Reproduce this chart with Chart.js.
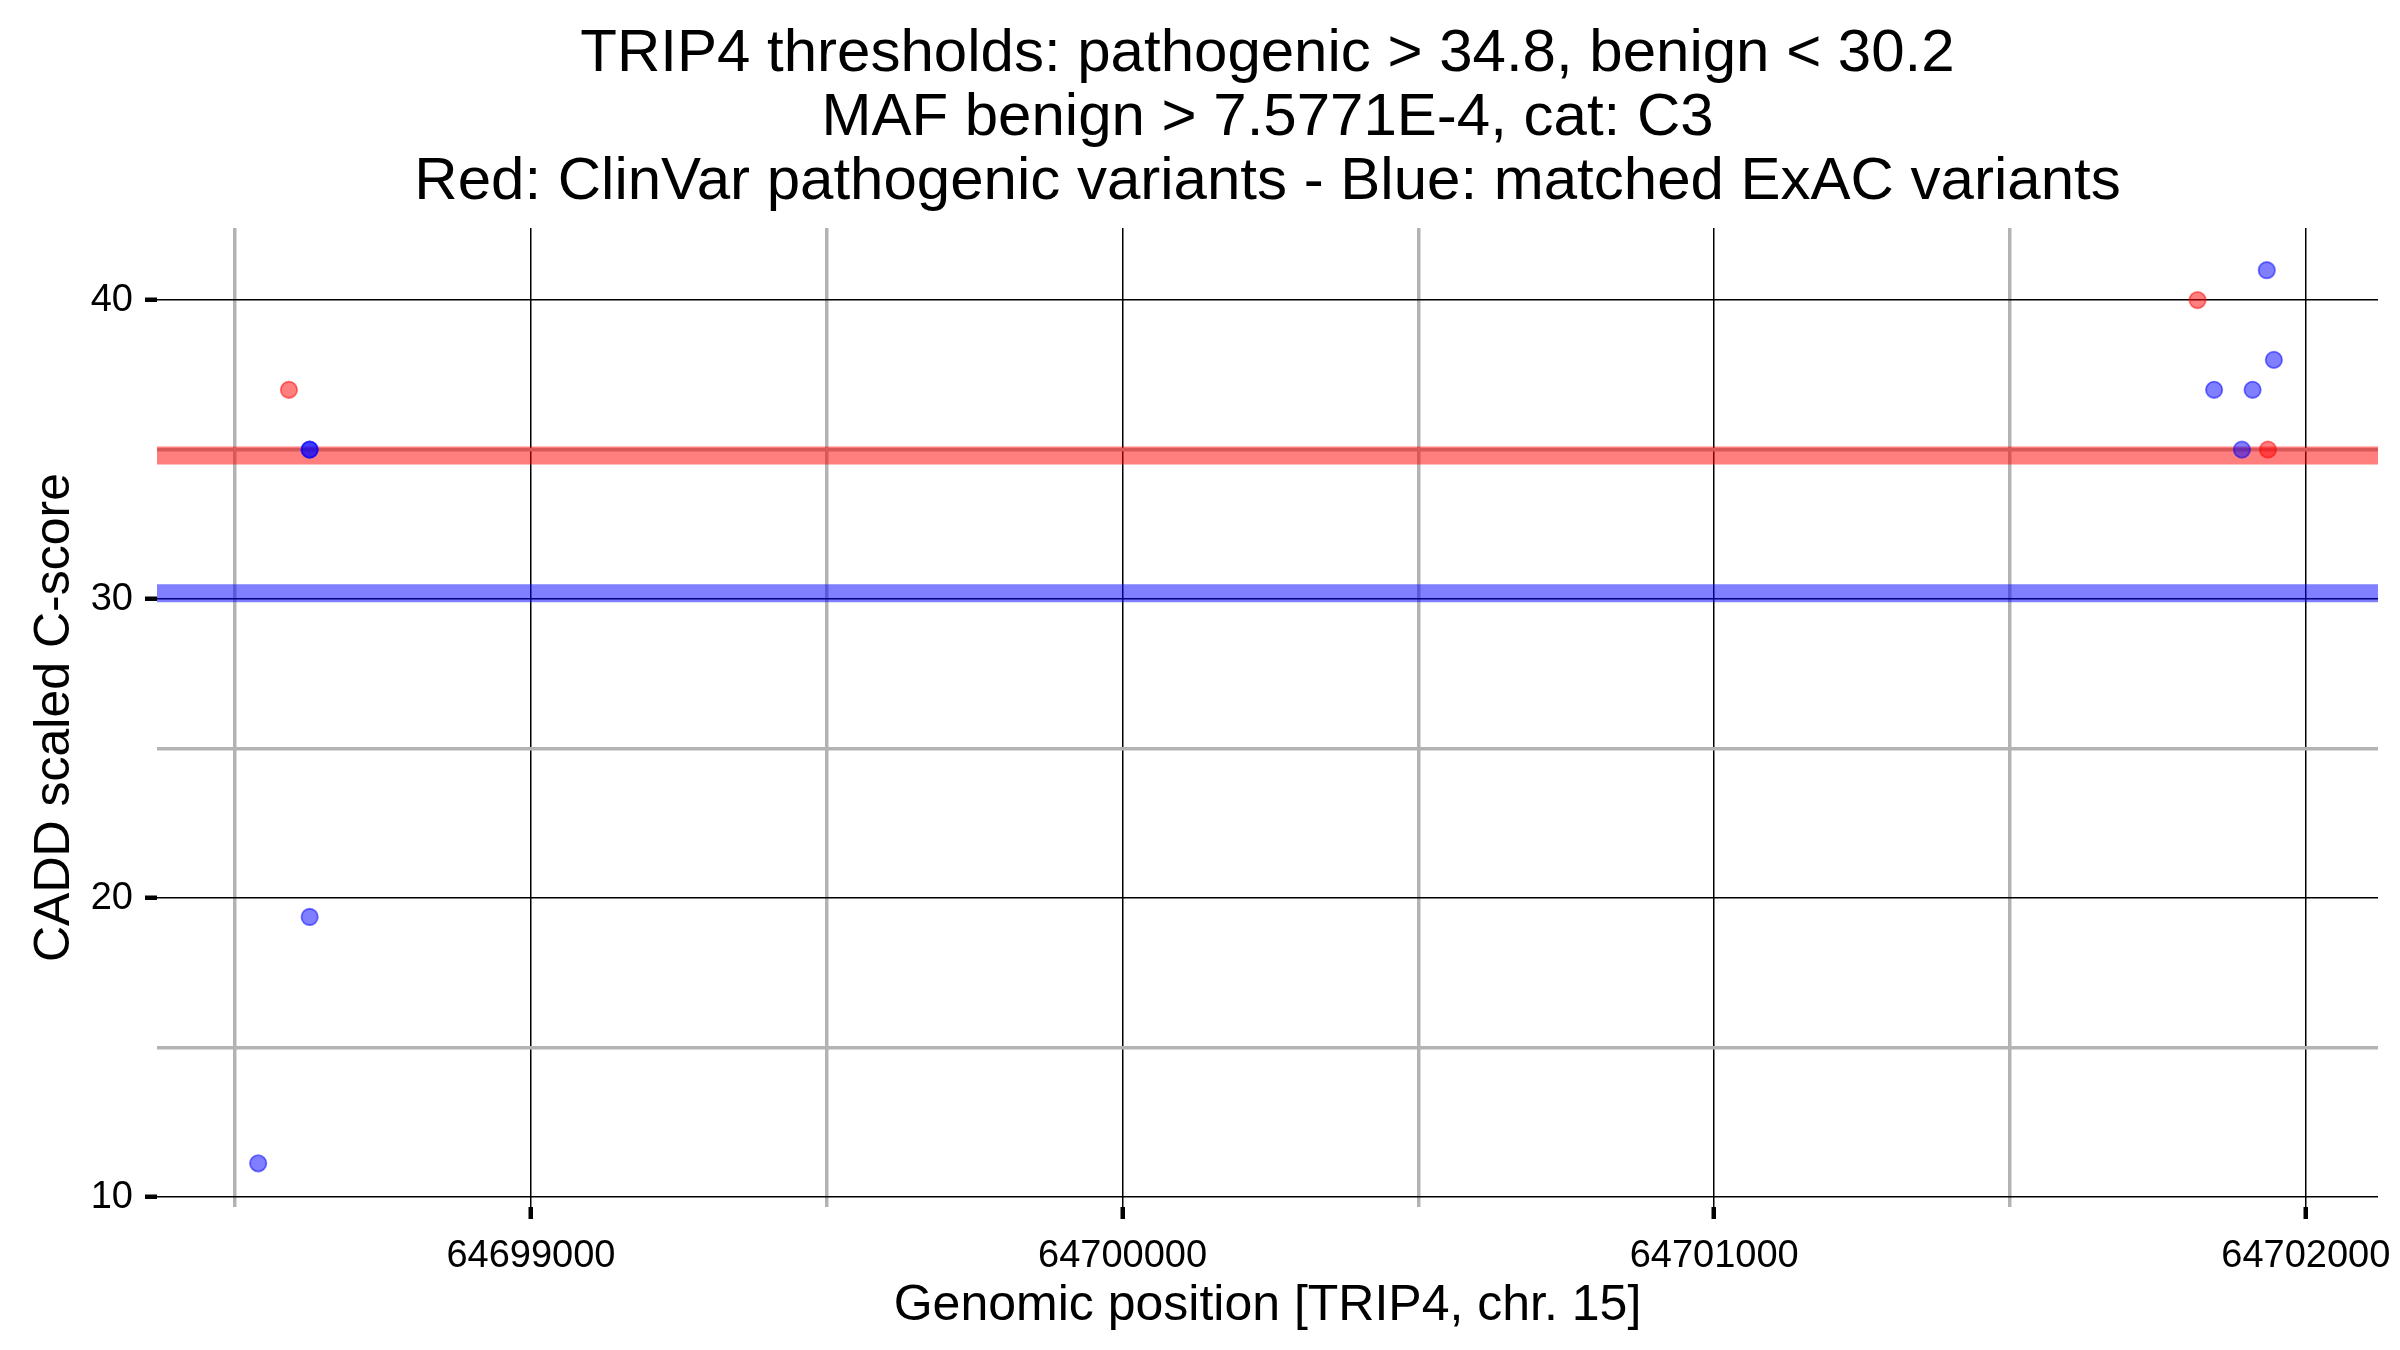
<!DOCTYPE html>
<html>
<head>
<meta charset="utf-8">
<title>TRIP4 CADD scores</title>
<script src="https://cdn.jsdelivr.net/npm/chart.js@4.4.1/dist/chart.umd.min.js"></script>
<style>
  html, body { margin: 0; padding: 0; background: #fff; }
  canvas { display: block; }
</style>
</head>
<body>
<canvas id="caddChart" width="2400" height="1350"></canvas>
<script>
// ClinVar pathogenic variants (red)
const clinvarPos = [64698591, 64701817, 64701936];
const clinvarScore = [37, 40, 35];

// matched ExAC variants (blue)
const exacPos = [64698539, 64698626, 64698626, 64698626, 64701845, 64701892, 64701910, 64701934, 64701946];
const exacScore = [11.13, 19.37, 35, 35, 37, 35, 37, 41, 38];

// CADD thresholds
const pathogenicThreshold = 34.8;
const benignThreshold = 30.2;

// Axis ranges and ticks
const xRange = [64698368, 64702122];
const yRange = [9.67, 42.41];
const xMajorTicks = [64699000, 64700000, 64701000, 64702000];
const xMinorTicks = [64698500, 64699500, 64700500, 64701500];
const yMajorTicks = [10, 20, 30, 40];
const yMinorTicks = [15, 25, 35];

const titleLines = [
    'TRIP4 thresholds: pathogenic > 34.8, benign < 30.2',
    'MAF benign > 7.5771E-4, cat: C3',
    'Red: ClinVar pathogenic variants - Blue: matched ExAC variants'
];

const FONT = "'Liberation Sans', Arial, Helvetica, sans-serif";

// Build point lists from the arrays
const toPoints = (xs, ys) => xs.map((x, i) => ({ x: x, y: ys[i] }));
const hline = (y) => [{ x: xRange[0], y: y }, { x: xRange[1], y: y }];

// Major grid lines are thin black, minor ones thick grey
const gridColor = (majors) => (ctx) => majors.includes(ctx.tick.value) ? '#000000' : '#b3b3b3';
const gridWidth = (majors) => (ctx) => majors.includes(ctx.tick.value) ? 1.5 : 3.5;
const tickColor = (majors) => (ctx) => majors.includes(ctx.tick.value) ? '#000000' : 'rgba(0,0,0,0)';

const pointStyle = (rgba) => ({
    backgroundColor: rgba,
    borderColor: rgba,
    pointRadius: 8.2,
    borderWidth: 1.8,
    order: 1
});

new Chart(document.getElementById('caddChart'), {
    type: 'scatter',
    data: {
        datasets: [
            Object.assign({ label: 'ClinVar pathogenic', data: toPoints(clinvarPos, clinvarScore) }, pointStyle('rgba(255,0,0,0.5)')),
            Object.assign({ label: 'matched ExAC', data: toPoints(exacPos, exacScore) }, pointStyle('rgba(0,0,255,0.5)')),
            {
                label: 'pathogenic threshold',
                data: hline(pathogenicThreshold),
                showLine: true,
                borderColor: 'rgba(255,0,0,0.5)',
                borderWidth: 18,
                pointRadius: 0,
                order: 2
            },
            {
                label: 'benign threshold',
                data: hline(benignThreshold),
                showLine: true,
                borderColor: 'rgba(0,0,255,0.5)',
                borderWidth: 18,
                pointRadius: 0,
                order: 2
            }
        ]
    },
    options: {
        responsive: false,
        devicePixelRatio: 1,
        animation: false,
        events: [],
        layout: { padding: { top: 0, right: 22, bottom: 0, left: 0 } },
        plugins: {
            legend: { display: false },
            tooltip: { enabled: false },
            title: {
                display: true,
                fullSize: false,   // centre over the plot panel, like ggplot
                text: titleLines,
                color: '#000000',
                font: { family: FONT, size: 60, weight: 'normal', lineHeight: 1.067 },
                padding: { top: 22, bottom: 14 }
            }
        },
        scales: {
            x: {
                type: 'linear',
                min: xRange[0],
                max: xRange[1],
                afterBuildTicks: (axis) => {
                    axis.ticks = xMinorTicks.concat(xMajorTicks).sort((a, b) => a - b).map(v => ({ value: v }));
                },
                afterFit: (axis) => {
                    axis.height = 143;
                    axis.paddingLeft = 0;
                    axis.paddingRight = 0;
                },
                border: { display: false },
                grid: {
                    color: gridColor(xMajorTicks),
                    lineWidth: gridWidth(xMajorTicks),
                    tickColor: tickColor(xMajorTicks),
                    tickWidth: 4.5,
                    tickLength: 12
                },
                ticks: {
                    autoSkip: false,
                    maxRotation: 0,
                    padding: 15,
                    color: '#000000',
                    font: { family: FONT, size: 38 },
                    callback: (value) => xMajorTicks.includes(value) ? String(value) : ''
                },
                title: {
                    display: true,
                    text: 'Genomic position [TRIP4, chr. 15]',
                    color: '#000000',
                    font: { family: FONT, size: 50 },
                    padding: { top: 0, bottom: 14 }
                }
            },
            y: {
                type: 'linear',
                min: yRange[0],
                max: yRange[1],
                afterBuildTicks: (axis) => {
                    axis.ticks = yMinorTicks.concat(yMajorTicks).sort((a, b) => a - b).map(v => ({ value: v }));
                },
                afterFit: (axis) => {
                    axis.width = 157;
                    axis.paddingTop = 0;
                    axis.paddingBottom = 0;
                },
                border: { display: false },
                grid: {
                    color: gridColor(yMajorTicks),
                    lineWidth: gridWidth(yMajorTicks),
                    tickColor: tickColor(yMajorTicks),
                    tickWidth: 4.5,
                    tickLength: 12
                },
                ticks: {
                    autoSkip: false,
                    padding: 12,
                    color: '#000000',
                    font: { family: FONT, size: 38 },
                    callback: (value) => yMajorTicks.includes(value) ? String(value) : ''
                },
                title: {
                    display: true,
                    text: 'CADD scaled C-score',
                    color: '#000000',
                    font: { family: FONT, size: 50 },
                    padding: { top: 25, bottom: 0 }
                }
            }
        }
    }
});
</script>
</body>
</html>
